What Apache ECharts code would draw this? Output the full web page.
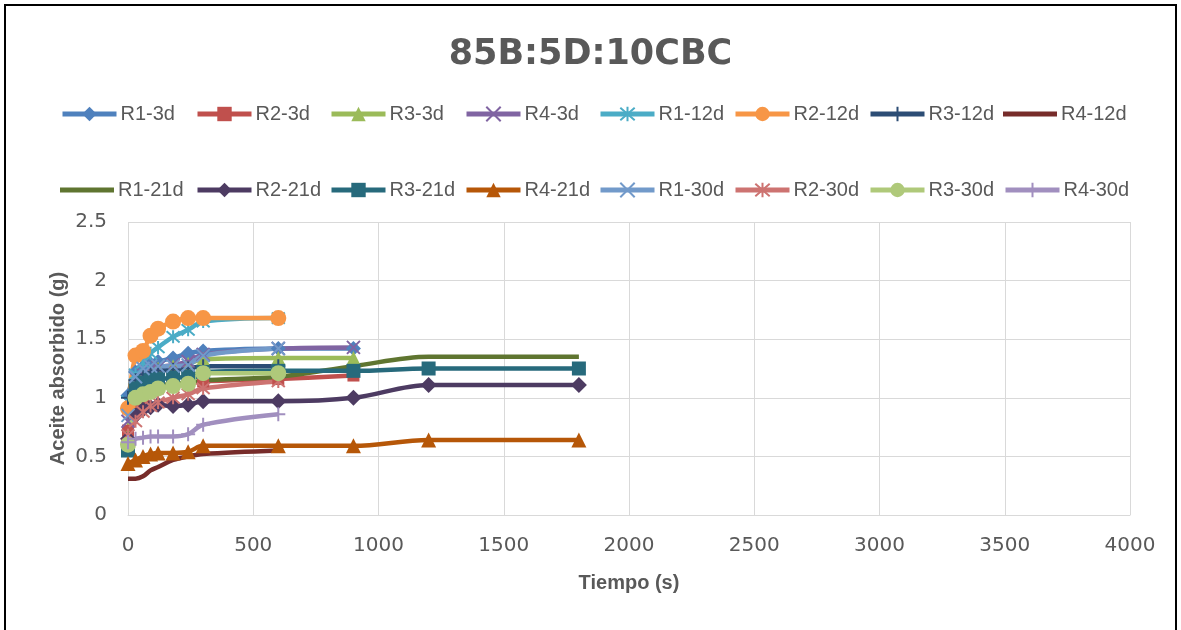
<!DOCTYPE html>
<html><head><meta charset="utf-8">
<script src="https://cdn.jsdelivr.net/npm/echarts@6/dist/echarts.min.js"></script>
<style>html,body{margin:0;padding:0;background:#fff}#c{width:1181px;height:630px}</style>
</head><body><div id="c"></div>
<script>
// ---- data ----
const seriesNames = ['R1-3d','R2-3d','R3-3d','R4-3d','R1-12d','R2-12d','R3-12d','R4-12d',
                     'R1-21d','R2-21d','R3-21d','R4-21d','R1-30d','R2-30d','R3-30d','R4-30d'];
const times3d  = [0,30,60,90,120,180,240,300,600,900];
const times12d = [0,30,60,90,120,180,240,300,600];
const times21d = [0,30,60,90,120,180,240,300,600,900,1200,1800];
const times30d = [0,30,60,90,120,180,240,300,600];

const r1_3d  = [1.02,1.22,1.26,1.29,1.31,1.34,1.38,1.40,1.42,1.42];
const r2_3d  = [0.72,0.90,1.00,1.05,1.08,1.10,1.12,1.14,1.16,1.19];
const r3_3d  = [0.68,1.10,1.18,1.22,1.25,1.27,1.29,1.33,1.34,1.34];
const r4_3d  = [0.80,1.10,1.20,1.24,1.26,1.28,1.31,1.37,1.42,1.43];
const r1_12d = [0.97,1.20,1.30,1.38,1.43,1.52,1.58,1.65,1.68];
const r2_12d = [0.91,1.36,1.40,1.53,1.59,1.65,1.68,1.68,1.68];
const r3_12d = [1.00,1.15,1.20,1.22,1.23,1.24,1.25,1.27,1.27];
const r4_12d = [0.31,0.31,0.33,0.38,0.41,0.47,0.50,0.52,0.55];
const r1_21d = [0.60,0.95,1.05,1.08,1.10,1.12,1.13,1.15,1.18,1.27,1.35,1.35];
const r2_21d = [0.65,0.85,0.90,0.92,0.94,0.93,0.94,0.97,0.97,1.00,1.11,1.11];
const r3_21d = [0.55,1.08,1.13,1.15,1.16,1.17,1.18,1.22,1.23,1.23,1.25,1.25];
const r4_21d = [0.44,0.47,0.50,0.52,0.53,0.53,0.54,0.59,0.59,0.59,0.64,0.64];
const r1_30d = [0.85,1.18,1.25,1.27,1.27,1.27,1.28,1.36,1.42];
const r2_30d = [0.68,0.80,0.88,0.93,0.96,1.00,1.03,1.08,1.14];
const r3_30d = [0.60,1.00,1.03,1.05,1.08,1.10,1.12,1.21,1.21];
const r4_30d = [0.62,0.65,0.66,0.67,0.67,0.67,0.69,0.77,0.86];

const xTicks = [0,500,1000,1500,2000,2500,3000,3500,4000];
const yTicks = [0,0.5,1,1.5,2,2.5];

// ---- styling ----
const TXT = '#595959';
const X_SYM = 'path://M0,0L14,14M14,0L0,14';
const AST_SYM = 'path://M0,0L14,14M14,0L0,14M7,-1L7,15';
const PLUS_SYM = 'path://M7,0L7,14M0,7L14,7';

const defs = [
  [times3d, r1_3d, '#4F81BD', 'diamond', 15],
  [times3d, r2_3d, '#C0504D', 'rect', 12],
  [times3d, r3_3d, '#9BBB59', 'triangle', 14],
  [times3d, r4_3d, '#8064A2', X_SYM, 13],
  [times12d, r1_12d, '#4BACC6', AST_SYM, 13],
  [times12d, r2_12d, '#F79646', 'circle', 16],
  [times12d, r3_12d, '#2C4D75', PLUS_SYM, 14],
  [times12d, r4_12d, '#772C2A', 'none', 0],
  [times21d, r1_21d, '#5F7530', 'none', 0],
  [times21d, r2_21d, '#4D3B62', 'diamond', 16],
  [times21d, r3_21d, '#276A7C', 'rect', 14],
  [times21d, r4_21d, '#B65708', 'triangle', 15],
  [times30d, r1_30d, '#729ACA', X_SYM, 13],
  [times30d, r2_30d, '#CD7371', AST_SYM, 13],
  [times30d, r3_30d, '#AFC97A', 'circle', 16],
  [times30d, r4_30d, '#A18FBF', PLUS_SYM, 14]
];

const series = defs.map((d, i) => {
  const isPath = d[3].indexOf('path://') === 0;
  return {
    name: seriesNames[i],
    type: 'line',
    smooth: 0.35,
    data: d[0].map((t, k) => [t, d[1][k]]),
    symbol: d[3],
    symbolSize: d[4],
    showSymbol: d[3] !== 'none',
    lineStyle: { color: d[2], width: 4.5 },
    itemStyle: { color: d[2], borderColor: d[2], borderWidth: isPath ? 2 : 0 },
    emphasis: { disabled: true },
    z: 2
  };
});

const legendX = [60, 195, 329, 464, 598, 733, 868, 1003];
const legends = seriesNames.map((n, i) => {
  const noMark = defs[i][3] === 'none';
  const base = i < 8 ? 113 : 189;
  const lg = {
    data: [n],
    left: legendX[i % 8],
    top: base - 9,
    padding: 0,
    itemWidth: 54,
    itemHeight: noMark ? 5 : 18,
    itemGap: 0,
    selectedMode: false,
    lineStyle: { width: 5 },
    textStyle: { color: TXT, fontSize: 20, fontFamily: 'Liberation Sans', padding: [0,0,0,-1] }
  };
  if (noMark) { lg.icon = 'rect'; lg.itemStyle = { color: defs[i][2] }; }
  return lg;
});

const chart = echarts.init(document.getElementById('c'), null, { renderer: 'canvas' });
chart.setOption({
  animation: false,
  backgroundColor: '#fff',
  title: {
    text: '85B:5D:10CBC',
    left: 'center',
    top: 32,
    textStyle: { color: TXT, fontSize: 35, fontWeight: 'bold', fontFamily: 'DejaVu Sans' }
  },
  legend: legends,
  graphic: [{
    type: 'rect', silent: true, z: 100,
    shape: { x: 5, y: 5, width: 1171, height: 700 },
    style: { fill: 'none', stroke: '#000', lineWidth: 2 }
  }],
  grid: { left: 128, right: 51, top: 222, bottom: 115, containLabel: false },
  xAxis: {
    type: 'value', min: xTicks[0], max: xTicks[xTicks.length - 1], interval: 500,
    name: 'Tiempo (s)', nameLocation: 'middle', nameGap: 58,
    nameTextStyle: { color: TXT, fontSize: 20, fontWeight: 'bold', fontFamily: 'Liberation Sans' },
    axisLine: { show: true, lineStyle: { color: '#d9d9d9', width: 1 } },
    axisTick: { show: false },
    axisLabel: { color: TXT, fontSize: 20, fontFamily: 'DejaVu Sans', margin: 21,
                 formatter: v => String(v) },
    splitLine: { show: true, lineStyle: { color: '#d9d9d9', width: 1 } }
  },
  yAxis: {
    type: 'value', min: yTicks[0], max: yTicks[yTicks.length - 1], interval: 0.5,
    name: 'Aceite absorbido (g)', nameLocation: 'middle', nameGap: 60, nameRotate: 90,
    nameMoveOverlap: false,
    nameTextStyle: { color: TXT, fontSize: 20, fontWeight: 'bold', fontFamily: 'Liberation Sans' },
    axisLine: { show: false },
    axisTick: { show: false },
    axisLabel: { color: TXT, fontSize: 20, fontFamily: 'DejaVu Sans', margin: 21,
                 formatter: v => String(v) },
    splitLine: { show: true, lineStyle: { color: '#d9d9d9', width: 1 } }
  },
  series: series
});
</script>
</body></html>
